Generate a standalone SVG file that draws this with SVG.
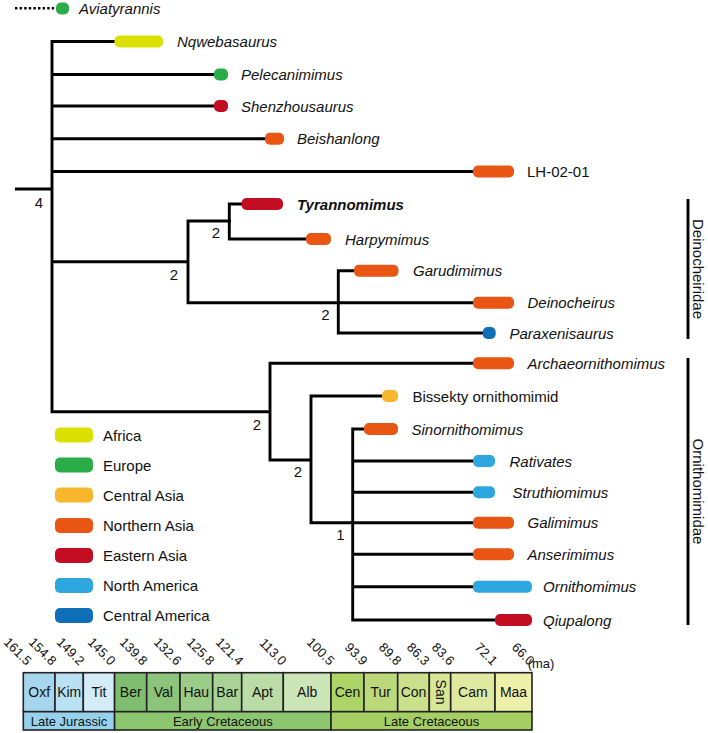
<svg xmlns="http://www.w3.org/2000/svg" width="708" height="733" viewBox="0 0 708 733">
<style>
text{font-family:"Liberation Sans",Arial,sans-serif;fill:#111}
.tx{font-size:15px;font-style:italic}
.tn{font-size:15px}
.nd{font-size:15px;text-anchor:middle}
.lg{font-size:15px}
.br{stroke:#000;stroke-width:2.9;fill:none;stroke-linejoin:miter}
.st{font-size:14px;text-anchor:middle}
.ep{font-size:13px;text-anchor:middle}
.tk{font-size:13px;text-anchor:end}
.cell{stroke:#222;stroke-width:1.6}
.af{fill:#dce000}.eu{fill:#2aad48}.ca{fill:#f8b62d}.na{fill:#e95513}.ea{fill:#c30d23}.nam{fill:#2ea7e0}.cam{fill:#0e6eb8}
</style>
<g id="connectors">
<path d="M15,8.3 H54" stroke="#000" stroke-width="2.6" stroke-dasharray="2.4 2.2" fill="none"/>
<path class="br" d="M15,189 H52"/>
<path class="br" d="M116,41.5 H52 V411.7 H271"/>
<path class="br" d="M52,74.5 H216"/>
<path class="br" d="M52,106 H216"/>
<path class="br" d="M52,138.7 H267"/>
<path class="br" d="M52,171.5 H475"/>
<path class="br" d="M52,261.7 H188"/>
<path class="br" d="M231,221 H188 V302.7 H475"/>
<path class="br" d="M243,204 H229.3 V239 H308"/>
<path class="br" d="M356,270.7 H338.3 V333 H485"/>
<path class="br" d="M475,363.3 H270 V460 H311"/>
<path class="br" d="M384,396 H311 V522.7 H475"/>
<path class="br" d="M366,429 H352.7 V620 H497"/>
<path class="br" d="M352.7,461 H475"/>
<path class="br" d="M352.7,492.3 H475"/>
<path class="br" d="M352.7,554.3 H475"/>
<path class="br" d="M352.7,586.7 H475"/>
<path class="br" d="M688,199 V339"/>
<path class="br" d="M688,358 V625"/>
</g>
<g id="node-labels">
<text class="nd" x="39" y="208">4</text>
<text class="nd" x="174" y="280">2</text>
<text class="nd" x="216" y="238">2</text>
<text class="nd" x="325.5" y="320">2</text>
<text class="nd" x="257" y="430">2</text>
<text class="nd" x="298" y="477">2</text>
<text class="nd" x="340.5" y="540">1</text>
</g>
<g id="Aviatyrannis"><rect class="eu" x="56" y="2.5" width="13" height="12" rx="5"/><text class="tx" x="79" y="14">Aviatyrannis</text></g>
<g id="Nqwebasaurus"><rect class="af" x="114.5" y="35.5" width="48.5" height="12" rx="5"/><text class="tx" x="177" y="47">Nqwebasaurus</text></g>
<g id="Pelecanimimus"><rect class="eu" x="214" y="68.5" width="14" height="12" rx="5"/><text class="tx" x="241" y="80">Pelecanimimus</text></g>
<g id="Shenzhousaurus"><rect class="ea" x="214" y="100" width="14" height="12" rx="5"/><text class="tx" x="241" y="111.5">Shenzhousaurus</text></g>
<g id="Beishanlong"><rect class="na" x="265" y="132.7" width="19" height="12" rx="5"/><text class="tx" x="297" y="144.2">Beishanlong</text></g>
<g id="LH-02-01"><rect class="na" x="473" y="165.5" width="41" height="12" rx="5"/><text class="tn" x="527" y="177">LH-02-01</text></g>
<g id="Tyrannomimus"><rect class="ea" x="241.5" y="198" width="41.5" height="12" rx="5"/><text class="tx" x="297" y="209.5" font-weight="bold">Tyrannomimus</text></g>
<g id="Harpymimus"><rect class="na" x="306" y="233" width="25" height="12" rx="5"/><text class="tx" x="345" y="244.5">Harpymimus</text></g>
<g id="Garudimimus"><rect class="na" x="354" y="264.7" width="44.5" height="12" rx="5"/><text class="tx" x="413" y="276.2">Garudimimus</text></g>
<g id="Deinocheirus"><rect class="na" x="473" y="296.7" width="41" height="12" rx="5"/><text class="tx" x="527.5" y="308.2">Deinocheirus</text></g>
<g id="Paraxenisaurus"><rect class="cam" x="482.7" y="327" width="13" height="12" rx="5"/><text class="tx" x="509.5" y="338.5">Paraxenisaurus</text></g>
<g id="Archaeornithomimus"><rect class="na" x="473" y="357.3" width="41" height="12" rx="5"/><text class="tx" x="527.5" y="368.8">Archaeornithomimus</text></g>
<g id="Bissekty"><rect class="ca" x="382" y="390" width="16" height="12" rx="5"/><text class="tn" x="412.5" y="401.5">Bissekty ornithomimid</text></g>
<g id="Sinornithomimus"><rect class="na" x="364" y="423" width="34" height="12" rx="5"/><text class="tx" x="411.5" y="434.5">Sinornithomimus</text></g>
<g id="Rativates"><rect class="nam" x="473" y="455" width="22" height="12" rx="5"/><text class="tx" x="509.5" y="466.5">Rativates</text></g>
<g id="Struthiomimus"><rect class="nam" x="473" y="486.3" width="22" height="12" rx="5"/><text class="tx" x="512.5" y="497.8">Struthiomimus</text></g>
<g id="Galimimus"><rect class="na" x="473" y="516.7" width="41" height="12" rx="5"/><text class="tx" x="527.5" y="528.2">Galimimus</text></g>
<g id="Anserimimus"><rect class="na" x="473" y="548.3" width="41" height="12" rx="5"/><text class="tx" x="527.5" y="559.8">Anserimimus</text></g>
<g id="Ornithomimus"><rect class="nam" x="473" y="580.7" width="59" height="12" rx="5"/><text class="tx" x="543" y="592.2">Ornithomimus</text></g>
<g id="Qiupalong"><rect class="ea" x="495" y="614" width="37" height="12" rx="5"/><text class="tx" x="543" y="625.5">Qiupalong</text></g>
<g id="clade-Deinocheiridae"><text class="tn" text-anchor="middle" transform="translate(693,269) rotate(90)">Deinocheiridae</text></g>
<g id="clade-Ornithomimidae"><text class="tn" text-anchor="middle" transform="translate(693,491.5) rotate(90)">Ornithomimidae</text></g>
<g id="legend">
<rect class="af" x="55" y="427.5" width="38" height="15" rx="5"/><text class="lg" x="103" y="440.5">Africa</text>
<rect class="eu" x="55" y="457.5" width="38" height="15" rx="5"/><text class="lg" x="103" y="470.5">Europe</text>
<rect class="ca" x="55" y="487.5" width="38" height="15" rx="5"/><text class="lg" x="103" y="500.5">Central Asia</text>
<rect class="na" x="55" y="518" width="38" height="15" rx="5"/><text class="lg" x="103" y="531">Northern Asia</text>
<rect class="ea" x="55" y="548" width="38" height="15" rx="5"/><text class="lg" x="103" y="561">Eastern Asia</text>
<rect class="nam" x="55" y="578" width="38" height="15" rx="5"/><text class="lg" x="103" y="591">North America</text>
<rect class="cam" x="55" y="608" width="38" height="15" rx="5"/><text class="lg" x="103" y="621">Central America</text>
</g>
<g id="timescale">
<rect class="cell" x="23.3" y="672.7" width="31.7" height="39" fill="#a6d6ee"/>
<rect class="cell" x="55" y="672.7" width="28.3" height="39" fill="#b9e1f3"/>
<rect class="cell" x="83.3" y="672.7" width="31.3" height="39" fill="#d3ecf8"/>
<rect class="cell" x="114.6" y="672.7" width="32.1" height="39" fill="#7fbd70"/>
<rect class="cell" x="146.7" y="672.7" width="33.3" height="39" fill="#8cc47c"/>
<rect class="cell" x="180" y="672.7" width="32.7" height="39" fill="#9bcc88"/>
<rect class="cell" x="212.7" y="672.7" width="29" height="39" fill="#a9d395"/>
<rect class="cell" x="241.7" y="672.7" width="41.6" height="39" fill="#bbdca6"/>
<rect class="cell" x="283.3" y="672.7" width="47.7" height="39" fill="#cce5b7"/>
<rect class="cell" x="331" y="672.7" width="33" height="39" fill="#acd466"/>
<rect class="cell" x="364" y="672.7" width="33.7" height="39" fill="#bbd97b"/>
<rect class="cell" x="397.7" y="672.7" width="31.6" height="39" fill="#cae08b"/>
<rect class="cell" x="429.3" y="672.7" width="21.4" height="39" fill="#d7e697"/>
<rect class="cell" x="450.7" y="672.7" width="44.3" height="39" fill="#e0e9a0"/>
<rect class="cell" x="495" y="672.7" width="37" height="39" fill="#edf0a8"/>
<rect class="cell" x="23.3" y="711.7" width="91.3" height="18.3" fill="#97d2ec"/>
<rect class="cell" x="114.6" y="711.7" width="216.4" height="18.3" fill="#8cc66f"/>
<rect class="cell" x="331" y="711.7" width="201" height="18.3" fill="#a5cf63"/>
<text class="st" x="39.2" y="697">Oxf</text>
<text class="st" x="69.2" y="697">Kim</text>
<text class="st" x="99" y="697">Tit</text>
<text class="st" x="130.7" y="697">Ber</text>
<text class="st" x="163.3" y="697">Val</text>
<text class="st" x="196.3" y="697">Hau</text>
<text class="st" x="227.2" y="697">Bar</text>
<text class="st" x="262.5" y="697">Apt</text>
<text class="st" x="307.2" y="697">Alb</text>
<text class="st" x="347.5" y="697">Cen</text>
<text class="st" x="380.8" y="697">Tur</text>
<text class="st" x="413.5" y="697">Con</text>
<text class="st" font-size="13" transform="translate(435.5,692) rotate(90)">San</text>
<text class="st" x="472.8" y="697">Cam</text>
<text class="st" x="513.5" y="697">Maa</text>
<text class="ep" x="69" y="725.5">Late Jurassic</text>
<text class="ep" x="222.8" y="725.5">Early Cretaceous</text>
<text class="ep" x="431.5" y="725.5">Late Cretaceous</text>
<text class="tk" transform="translate(26,666) rotate(45)">161.5</text>
<text class="tk" transform="translate(51,666) rotate(45)">154.8</text>
<text class="tk" transform="translate(79,666) rotate(45)">149.2</text>
<text class="tk" transform="translate(110,666) rotate(45)">145.0</text>
<text class="tk" transform="translate(142,666) rotate(45)">139.8</text>
<text class="tk" transform="translate(176,666) rotate(45)">132.6</text>
<text class="tk" transform="translate(209,666) rotate(45)">125.8</text>
<text class="tk" transform="translate(238,666) rotate(45)">121.4</text>
<text class="tk" transform="translate(281,666) rotate(45)">113.0</text>
<text class="tk" transform="translate(329,666) rotate(45)">100.5</text>
<text class="tk" transform="translate(362,666) rotate(45)">93.9</text>
<text class="tk" transform="translate(396,666) rotate(45)">89.8</text>
<text class="tk" transform="translate(424,666) rotate(45)">86.3</text>
<text class="tk" transform="translate(449,666) rotate(45)">83.6</text>
<text class="tk" transform="translate(492,666) rotate(45)">72.1</text>
<text class="tk" transform="translate(529,666) rotate(45)">66.0</text>
<text class="ep" text-anchor="start" x="541" y="668">(ma)</text>
</g>
</svg>
